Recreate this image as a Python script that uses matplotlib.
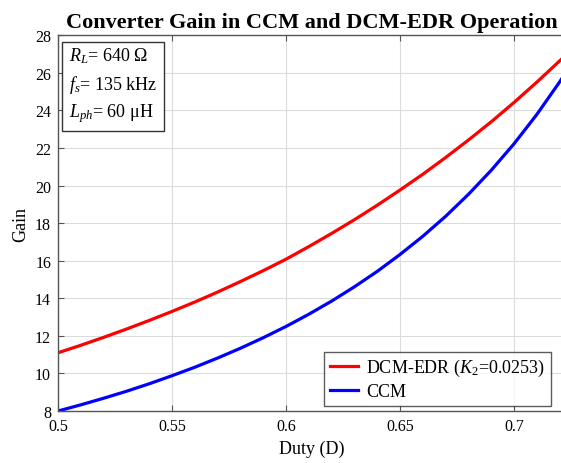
import numpy as np
import matplotlib
matplotlib.use("Agg")
import matplotlib.pyplot as plt

plt.rcParams["font.family"] = ["Liberation Serif", "DejaVu Serif"]
plt.rcParams["mathtext.fontset"] = "custom"
plt.rcParams["mathtext.rm"] = "Liberation Serif"
plt.rcParams["mathtext.it"] = "Liberation Serif:italic"
plt.rcParams["mathtext.bf"] = "Liberation Serif:bold"

# Duty cycle samples
duty = [0.50, 0.51, 0.52, 0.53, 0.54, 0.55, 0.56, 0.57, 0.58, 0.59, 0.60,
        0.61, 0.62, 0.63, 0.64, 0.65, 0.66, 0.67, 0.68, 0.69, 0.70, 0.71,
        0.72, 0.725]

# Gain in DCM-EDR operation
gain_dcm = [11.10, 11.50, 11.92, 12.36, 12.82, 13.30, 13.80, 14.33, 14.89,
            15.47, 16.08, 16.75, 17.45, 18.18, 18.95, 19.76, 20.60, 21.49,
            22.42, 23.39, 24.42, 25.50, 26.63, 27.22]

# Gain in CCM operation
gain_ccm = [8.00, 8.33, 8.68, 9.05, 9.45, 9.88, 10.33, 10.82, 11.34, 11.90,
            12.50, 13.15, 13.85, 14.61, 15.43, 16.33, 17.30, 18.36, 19.53,
            20.81, 22.22, 23.78, 25.51, 26.45]

x_ticks = [0.5, 0.55, 0.6, 0.65, 0.7]
x_tick_labels = ["0.5", "0.55", "0.6", "0.65", "0.7"]
y_ticks = [8, 10, 12, 14, 16, 18, 20, 22, 24, 26, 28]

fig = plt.figure(figsize=(5.61, 4.64), dpi=100)
ax = fig.add_axes([0.1034, 0.112, 0.9055, 0.810])

ax.plot(duty, gain_dcm, color="#ff0000", lw=2.3,
        label=r"DCM-EDR ($K_2$=0.0253)")
ax.plot(duty, gain_ccm, color="#0000ff", lw=2.3, label="CCM")

ax.set_xlim(0.5, 0.7228)
ax.set_ylim(8, 28)
ax.set_xticks(x_ticks)
ax.set_xticklabels(x_tick_labels)
ax.set_yticks(y_ticks)

ax.grid(True, color="#dcdcdc", lw=0.8)
ax.set_axisbelow(True)
ax.tick_params(direction="in", length=4, width=0.8, color="#555555",
               labelsize=11.5, top=True, right=False, pad=5)

for side in ["left", "bottom", "top"]:
    ax.spines[side].set_color("#555555")
    ax.spines[side].set_linewidth(1.0)
ax.spines["right"].set_visible(False)

ax.set_xlabel("Duty (D)", fontsize=13, labelpad=4)
ax.set_ylabel("Gain", fontsize=13, labelpad=4)
ax.set_title("Converter Gain in CCM and DCM-EDR Operation",
             fontsize=16, fontweight="bold", pad=6)

info = "$R_L$= 640 \u03a9\n$f_s$= 135 kHz\n$L_{ph}$= 60 \u03bcH"
ax.text(0.022, 0.972, info, transform=ax.transAxes, va="top", ha="left",
        fontsize=13, linespacing=1.45,
        bbox=dict(boxstyle="square,pad=0.38", facecolor="white",
                  edgecolor="#333333", lw=1.0))

leg = ax.legend(loc="lower right", bbox_to_anchor=(0.97, 0.014),
                fontsize=13, frameon=True, fancybox=False,
                handlelength=1.55, handletextpad=0.45, borderpad=0.32,
                labelspacing=0.25, borderaxespad=0.0)
leg.get_frame().set_edgecolor("#333333")
leg.get_frame().set_linewidth(1.0)

fig.savefig("out.png", dpi=100)
